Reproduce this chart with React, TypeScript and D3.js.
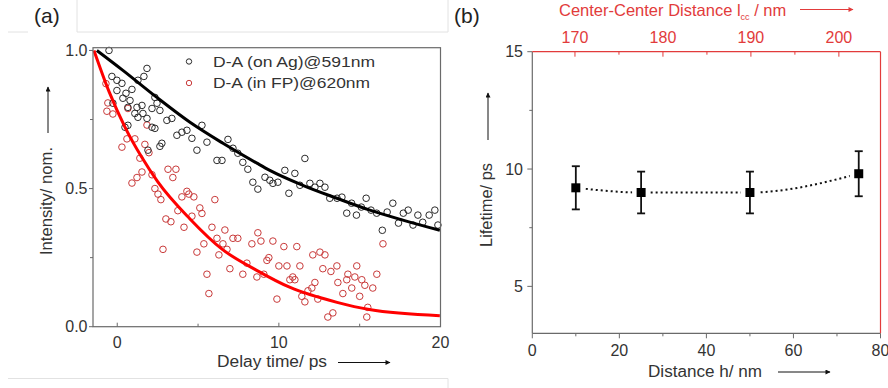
import React from "react";
import * as d3 from "d3";

// panel (a): delay time (ps) vs normalised intensity
const onAgData: [number, number][] = [
  [-0.51, 1.0], [1.84, 0.935], [-0.33, 0.906], [-0.02, 0.892], [0.29, 0.881], [1.28, 0.892],
  [1.65, 0.906], [0.91, 0.859], [-0.02, 0.855], [0.54, 0.845], [0.35, 0.827], [-0.27, 0.809],
  [0.79, 0.819], [2.33, 0.83], [2.46, 0.809], [0.66, 0.794], [1.22, 0.794], [1.53, 0.801],
  [2.15, 0.79], [2.64, 0.783], [1.09, 0.772], [1.28, 0.758], [1.59, 0.772], [1.84, 0.754],
  [3.07, 0.747], [3.38, 0.754], [2.15, 0.722], [2.33, 0.718], [0.48, 0.722], [0.66, 0.729],
  [3.69, 0.693], [4.0, 0.704], [4.31, 0.711], [5.24, 0.729], [4.62, 0.682], [2.76, 0.664],
  [2.64, 0.653], [1.9, 0.639], [4.93, 0.639], [5.55, 0.668], [6.17, 0.602], [6.48, 0.602],
  [6.85, 0.678], [7.16, 0.646], [7.46, 0.628], [8.08, 0.57], [7.77, 0.595], [8.39, 0.523],
  [8.7, 0.498], [9.14, 0.541], [9.44, 0.53], [9.63, 0.519], [9.94, 0.523], [10.37, 0.566],
  [10.62, 0.483], [10.99, 0.555], [11.61, 0.609], [11.3, 0.512], [11.92, 0.519], [12.23, 0.505],
  [12.54, 0.519], [12.85, 0.505], [13.15, 0.465], [13.6, 0.465], [13.9, 0.469], [14.2, 0.411],
  [14.5, 0.447], [14.8, 0.404], [15.1, 0.433], [15.4, 0.465], [15.7, 0.422], [16.05, 0.411],
  [16.4, 0.349], [16.7, 0.415], [17.05, 0.447], [17.4, 0.375], [17.7, 0.411], [18.0, 0.422],
  [18.3, 0.368], [18.6, 0.404], [18.9, 0.378], [19.3, 0.404], [19.65, 0.422], [19.84, 0.368],
];

const inFpData: [number, number][] = [
  [-0.7, 0.88], [-0.58, 0.81], [-0.64, 0.78], [-0.27, 0.77], [0.66, 0.79], [0.29, 0.65],
  [0.6, 0.68], [1.09, 0.68], [1.84, 0.73], [1.71, 0.66], [1.96, 0.63], [1.4, 0.61],
  [0.91, 0.52], [1.22, 0.54], [1.53, 0.56], [2.15, 0.55], [3.14, 0.57], [3.63, 0.57],
  [3.44, 0.54], [2.33, 0.5], [2.52, 0.48], [2.7, 0.46], [4.31, 0.49], [4.43, 0.48],
  [4.0, 0.47], [4.74, 0.47], [6.04, 0.46], [3.75, 0.42], [4.62, 0.4], [5.11, 0.43],
  [5.24, 0.41], [3.01, 0.39], [3.32, 0.38], [4.13, 0.36], [2.83, 0.28], [5.86, 0.36],
  [6.66, 0.35], [7.16, 0.32], [7.46, 0.32], [6.17, 0.32], [6.54, 0.3], [6.79, 0.28],
  [4.93, 0.27], [5.36, 0.3], [5.55, 0.19], [5.67, 0.12], [6.29, 0.26], [6.97, 0.21],
  [7.77, 0.19], [8.7, 0.34], [8.89, 0.31], [8.33, 0.3], [9.26, 0.24], [9.38, 0.25],
  [9.63, 0.31], [8.02, 0.23], [8.64, 0.18], [9.07, 0.19], [9.88, 0.1], [10.0, 0.22],
  [10.5, 0.22], [10.31, 0.29], [10.68, 0.17], [10.86, 0.18], [10.99, 0.17], [11.11, 0.29],
  [11.3, 0.22], [11.42, 0.11], [11.61, 0.09], [11.8, 0.13], [12.04, 0.14], [12.23, 0.16],
  [12.41, 0.1], [12.1, 0.26], [12.54, 0.27], [12.85, 0.26], [12.72, 0.21], [13.22, 0.2],
  [13.59, 0.22], [13.65, 0.16], [13.96, 0.12], [14.2, 0.17], [13.03, 0.035], [13.34, 0.05],
  [14.27, 0.19], [14.51, 0.14], [14.7, 0.18], [14.82, 0.22], [15.0, 0.11], [15.13, 0.17],
  [15.32, 0.15], [15.44, 0.035], [15.5, 0.07], [15.81, 0.14], [16.06, 0.19], [16.44, 0.3],
];

// fitted decay curves
const onAgFit: [number, number][] = [
  [-1.26, 1.0], [0.35, 0.928], [2.45, 0.83], [4.5, 0.74], [6.54, 0.664], [8.64, 0.592],
  [9.44, 0.566], [11.48, 0.512], [13.59, 0.465], [15.63, 0.422], [17.67, 0.386], [19.96, 0.349],
];
const inFpFit: [number, number][] = [
  [-1.44, 1.0], [-0.5, 0.85], [0.5, 0.72], [1.5, 0.615], [2.5, 0.525], [4.5, 0.39],
  [6.5, 0.28], [8.6, 0.205], [10.7, 0.142], [13.6, 0.088], [15.6, 0.062], [19.96, 0.04],
];
const legendLabels = ["D-A (on Ag)@591nm", "D-A (in FP)@620nm"];

// panel (b): lifetime vs distance
const distances = [10, 25, 50, 75];
const lifetimes = [9.2, 9.0, 9.0, 9.8];
const lifetimeErr = [0.92, 0.89, 0.89, 0.96];

const aXTicks = [0, 10, 20];
const aXMinor = [5, 15];
const aYTicks = [0, 0.5, 1.0];
const aYMinor = [0.25, 0.75];
const bXTicks = [0, 20, 40, 60, 80];
const bXMinor = [10, 30, 50, 70];
const bYTicks = [5, 10, 15];
const bYMinor = [7.5, 12.5];
const topTicks = [170, 180, 190, 200];
const topMinor = [175, 185, 195];

const FONT = "Arial, 'Liberation Sans', sans-serif";
const AXIS = "#6a6a6a";
const TXT = "#333";
const RED_AX = "#e23b3b";

export default function App() {
  // panel (a) scales
  const xA = d3.scaleLinear().domain([-1.5, 20]).range([93, 440.5]);
  const yA = d3.scaleLinear().domain([0, 1.01]).range([326.7, 47.7]);
  // panel (b) scales
  const xB = d3.scaleLinear().domain([0, 80]).range([532.3, 880.5]);
  const yB = d3.scaleLinear().domain([3, 15]).range([333.3, 51.7]);
  const xTop = d3.scaleLinear().domain([165.15, 204.73]).range([532.3, 880.5]);

  const fit = d3
    .line<[number, number]>()
    .x((d) => xA(d[0]))
    .y((d) => yA(d[1]))
    .curve(d3.curveMonotoneX);

  const lifeLine = d3
    .line<number>()
    .x((d, i) => xB(distances[i]))
    .y((d) => yB(d))
    .curve(d3.curveMonotoneX);

  const [aL, aR] = xA.range();
  const [aB, aT] = yA.range();
  const [bL, bR] = xB.range();
  const [bB, bT] = yB.range();

  return (
    <div style={{ position: "absolute", left: 0, top: 0 }}>
      <svg width={888} height={388} style={{ display: "block", background: "#fff" }} fontFamily={FONT}>
        <defs>
          <marker id="arrK" viewBox="0 0 10 10" refX="9" refY="5" markerWidth="7" markerHeight="5" orient="auto" markerUnits="userSpaceOnUse">
            <path d="M0,0 L10,5 L0,10 z" fill="#111" />
          </marker>
          <marker id="arrR" viewBox="0 0 10 10" refX="9" refY="5" markerWidth="7" markerHeight="5" orient="auto" markerUnits="userSpaceOnUse">
            <path d="M0,0 L10,5 L0,10 z" fill={RED_AX} />
          </marker>
        </defs>

        {/* faint page frame lines */}
        <g stroke="#e2e2e2" strokeWidth={1} fill="none">
          <path d="M8,32 H28" />
          <path d="M77,0 V32 H448 V0" />
          <path d="M8,378.5 H448 V388" />
        </g>

        {/* ---------- panel (a) ---------- */}
        <text x={34} y={23} fontSize={21} fill="#222">(a)</text>

        {aXTicks.map((t) => (
          <g key={"ax" + t}>
            <line x1={xA(t)} x2={xA(t)} y1={aB} y2={aB - 4} stroke={AXIS} />
            <text x={xA(t)} y={348} fontSize={16} fill={TXT} textAnchor="middle">{t}</text>
          </g>
        ))}
        {aXMinor.map((t) => (
          <line key={"axm" + t} x1={xA(t)} x2={xA(t)} y1={aB} y2={aB - 3} stroke={AXIS} />
        ))}
        {aYTicks.map((t) => (
          <g key={"ay" + t}>
            <line x1={aL - 4} x2={aL} y1={yA(t)} y2={yA(t)} stroke={AXIS} />
            <text x={87.5} y={yA(t) + 5.5} fontSize={16} fill={TXT} textAnchor="end">{t.toFixed(1)}</text>
          </g>
        ))}
        {aYMinor.map((t) => (
          <line key={"aym" + t} x1={aL - 3} x2={aL} y1={yA(t)} y2={yA(t)} stroke={AXIS} />
        ))}

        {inFpData.map((d, i) => (
          <circle key={"r" + i} cx={xA(d[0])} cy={yA(d[1])} r={3.3} fill="none" stroke="#c93a3a" strokeWidth={1} />
        ))}
        {onAgData.map((d, i) => (
          <circle key={"k" + i} cx={xA(d[0])} cy={yA(d[1])} r={3.3} fill="none" stroke="#2a2a2a" strokeWidth={1} />
        ))}
        <path d={fit(onAgFit) ?? ""} fill="none" stroke="#000" strokeWidth={3} />
        <path d={fit(inFpFit) ?? ""} fill="none" stroke="#ff0000" strokeWidth={3} />

        <rect x={aL} y={aT} width={aR - aL} height={aB - aT} fill="none" stroke={AXIS} strokeWidth={1.2} />

        {legendLabels.map((lab, i) => (
          <g key={lab}>
            <circle cx={189} cy={61.5 + i * 21.5} r={2.7} fill="none" stroke={i === 0 ? "#2a2a2a" : "#c93a3a"} />
            <text x={213} y={66.7 + i * 21.6} fontSize={15} fill={TXT} textLength={i === 0 ? 162 : 157} lengthAdjust="spacingAndGlyphs">{lab}</text>
          </g>
        ))}

        <text x={217} y={367} fontSize={16} fill={TXT} textLength={110} lengthAdjust="spacingAndGlyphs">Delay time/ ps</text>
        <line x1={338} x2={390} y1={362.5} y2={362.5} stroke="#111" strokeWidth={1} markerEnd="url(#arrK)" />
        <text transform="translate(52,255) rotate(-90)" fontSize={16} fill={TXT} textLength={108} lengthAdjust="spacingAndGlyphs">Intensity/ nom.</text>
        <line x1={48} x2={48} y1={133} y2={87} stroke="#111" strokeWidth={1} markerEnd="url(#arrK)" />

        {/* ---------- panel (b) ---------- */}
        <text x={454} y={23} fontSize={21} fill="#222">(b)</text>

        {bXTicks.map((t) => (
          <g key={"bx" + t}>
            <line x1={xB(t)} x2={xB(t)} y1={bB} y2={bB + 5} stroke={AXIS} />
            <text x={xB(t)} y={356} fontSize={16} fill={TXT} textAnchor="middle">{t}</text>
          </g>
        ))}
        {bXMinor.map((t) => (
          <line key={"bxm" + t} x1={xB(t)} x2={xB(t)} y1={bB} y2={bB + 3} stroke={AXIS} />
        ))}
        {bYTicks.map((t) => (
          <g key={"by" + t}>
            <line x1={bL - 5} x2={bL} y1={yB(t)} y2={yB(t)} stroke={AXIS} />
            <text x={523} y={yB(t) + 5.5} fontSize={16} fill={TXT} textAnchor="end">{t}</text>
          </g>
        ))}
        {bYMinor.map((t) => (
          <line key={"bym" + t} x1={bL - 3} x2={bL} y1={yB(t)} y2={yB(t)} stroke={AXIS} />
        ))}

        {/* top axis: center-center distance */}
        {topTicks.map((t) => (
          <g key={"tx" + t}>
            <line x1={xTop(t)} x2={xTop(t)} y1={bT} y2={bT + 5} stroke={RED_AX} />
            <text x={xTop(t)} y={42.5} fontSize={16} fill={RED_AX} textAnchor="middle">{t}</text>
          </g>
        ))}
        {topMinor.map((t) => (
          <line key={"txm" + t} x1={xTop(t)} x2={xTop(t)} y1={bT} y2={bT + 3} stroke={RED_AX} />
        ))}

        <path d={lifeLine(lifetimes) ?? ""} fill="none" stroke="#111" strokeWidth={2} strokeDasharray="2,3" />
        {lifetimes.map((v, i) => (
          <rect key={"wb" + i} x={xB(distances[i]) - 9} y={yB(v) - 9} width={18} height={18} fill="#fff" />
        ))}
        {lifetimes.map((v, i) => {
          const cx = xB(distances[i]);
          return (
            <g key={"eb" + i} stroke="#111" strokeWidth={1.8}>
              <line x1={cx} x2={cx} y1={yB(v - lifetimeErr[i])} y2={yB(v + lifetimeErr[i])} />
              <line x1={cx - 4} x2={cx + 4} y1={yB(v - lifetimeErr[i])} y2={yB(v - lifetimeErr[i])} />
              <line x1={cx - 4} x2={cx + 4} y1={yB(v + lifetimeErr[i])} y2={yB(v + lifetimeErr[i])} />
            </g>
          );
        })}
        {lifetimes.map((v, i) => (
          <rect key={"sq" + i} x={xB(distances[i]) - 4.5} y={yB(v) - 4.5} width={9} height={9} fill="#000" />
        ))}

        <line x1={bL} x2={bL} y1={bT} y2={bB} stroke={AXIS} strokeWidth={1.2} />
        <line x1={bL} x2={bR} y1={bB} y2={bB} stroke={AXIS} strokeWidth={1.2} />
        <line x1={bL} x2={bR} y1={bT} y2={bT} stroke={RED_AX} strokeWidth={1.2} />
        <line x1={bR} x2={bR} y1={bT} y2={bB} stroke={RED_AX} strokeWidth={1.2} />

        <text x={648} y={376.7} fontSize={16} fill={TXT} textLength={114} lengthAdjust="spacingAndGlyphs">Distance h/ nm</text>
        <line x1={778} x2={830} y1={372} y2={372} stroke="#111" strokeWidth={1} markerEnd="url(#arrK)" />
        <text transform="translate(492,247) rotate(-90)" fontSize={16} fill={TXT} textLength={84} lengthAdjust="spacingAndGlyphs">Lifetime/ ps</text>
        <line x1={488} x2={488} y1={140} y2={93} stroke="#111" strokeWidth={1} markerEnd="url(#arrK)" />

        <text x={559} y={16} fontSize={16.5} fill={RED_AX}>
          Center-Center Distance l<tspan fontSize={9} dy={4}>cc</tspan>
          <tspan dy={-4}> / nm</tspan>
        </text>
        <line x1={800} x2={853} y1={9.5} y2={9.5} stroke={RED_AX} strokeWidth={1} markerEnd="url(#arrR)" />
      </svg>
    </div>
  );
}
